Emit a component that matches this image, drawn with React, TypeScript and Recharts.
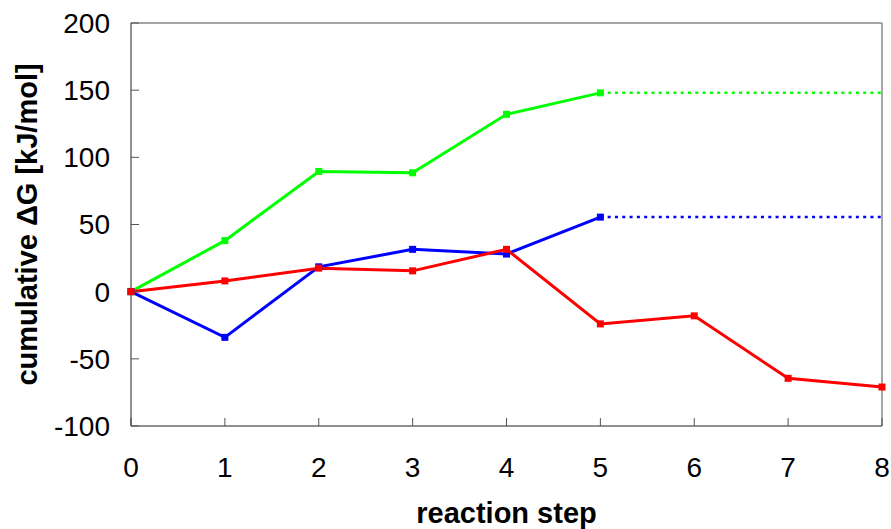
import React from 'react';
import { LineChart, Line, XAxis, YAxis, ReferenceLine } from 'recharts';

const steps = [0, 1, 2, 3, 4, 5, 6, 7, 8];
const greenValues = [0, 38, 89.5, 88.5, 132, 148, null, null, null];
const blueValues = [0, -34, 18.5, 31.5, 28, 55.5, null, null, null];
const redValues = [0, 8, 17.5, 15.5, 31.5, -24, -18, -64.5, -71];
const greenPlateau = [null, null, null, null, null, 148, 148, 148, 148];
const bluePlateau = [null, null, null, null, null, 55.5, 55.5, 55.5, 55.5];
const xTicks = [0, 1, 2, 3, 4, 5, 6, 7, 8];
const yTicks = [-100, -50, 0, 50, 100, 150, 200];

const data = steps.map((s, i) => ({
  step: s,
  green: greenValues[i],
  blue: blueValues[i],
  red: redValues[i],
  greenP: greenPlateau[i],
  blueP: bluePlateau[i],
}));

const FONT = '"Liberation Sans", Arial, Helvetica, sans-serif';

const makeSquare = (color: string) => (props: any) => {
  const { cx, cy, index } = props;
  if (cx == null || cy == null || isNaN(cx) || isNaN(cy)) return <g key={`d-${color}-${index}`} />;
  return <rect key={`d-${color}-${index}`} x={cx - 3.5} y={cy - 3.5} width={7} height={7} fill={color} />;
};

const YLabel = (props: any) => {
  const vb = props.viewBox || {};
  const x = (vb.x ?? 0) + 27;
  const y = (vb.y ?? 0) + (vb.height ?? 0) / 2;
  return (
    <text x={x} y={y} transform={`rotate(-90, ${x}, ${y})`} textAnchor="middle" dominantBaseline="central"
      fontFamily={FONT} fontWeight="bold" fontSize={29} fill="#000">
      cumulative ΔG [kJ/mol]
    </text>
  );
};

const XLabel = (props: any) => {
  const vb = props.viewBox || {};
  const x = (vb.x ?? 0) + (vb.width ?? 0) / 2;
  const y = (vb.y ?? 0) + 97;
  return (
    <text x={x} y={y} textAnchor="middle" fontFamily={FONT} fontWeight="bold" fontSize={29} fill="#000">
      reaction step
    </text>
  );
};

export default function App() {
  return (
    <div style={{ position: 'absolute', left: 0, top: 0, width: 891, height: 529, background: '#fff' }}>
      <LineChart width={891} height={529} data={data} margin={{ top: 23, right: 9, left: 0, bottom: 0 }}>
        <XAxis
          dataKey="step"
          type="number"
          domain={[0, 8]}
          ticks={xTicks}
          allowDecimals={false}
          height={103}
          tickSize={-8}
          tickMargin={39}
          stroke="#222"
          tickLine={{ stroke: '#555' }}
          tick={{ fill: '#000', fontSize: 28, fontFamily: FONT }}
          label={<XLabel />}
        />
        <YAxis
          type="number"
          domain={[-100, 200]}
          ticks={yTicks}
          width={131}
          tickSize={-8}
          tickMargin={29}
          stroke="#222"
          tickLine={{ stroke: '#555' }}
          tick={{ fill: '#000', fontSize: 28, fontFamily: FONT }}
          label={<YLabel />}
        />
        <ReferenceLine y={200} stroke="#888" strokeWidth={1.5} ifOverflow="extendDomain" />
        <ReferenceLine x={8} stroke="#888" strokeWidth={1.5} />
        <Line dataKey="greenP" stroke="#00ff00" strokeWidth={2.5} strokeDasharray="3 4.3" dot={false} activeDot={false} isAnimationActive={false} connectNulls={false} />
        <Line dataKey="blueP" stroke="#0000ff" strokeWidth={2.5} strokeDasharray="3 4.3" dot={false} activeDot={false} isAnimationActive={false} connectNulls={false} />
        <Line dataKey="green" stroke="#00ff00" strokeWidth={3} dot={makeSquare('#00ff00')} activeDot={false} isAnimationActive={false} />
        <Line dataKey="blue" stroke="#0000ff" strokeWidth={3} dot={makeSquare('#0000ff')} activeDot={false} isAnimationActive={false} />
        <Line dataKey="red" stroke="#ff0000" strokeWidth={3} dot={makeSquare('#ff0000')} activeDot={false} isAnimationActive={false} />
      </LineChart>
    </div>
  );
}
